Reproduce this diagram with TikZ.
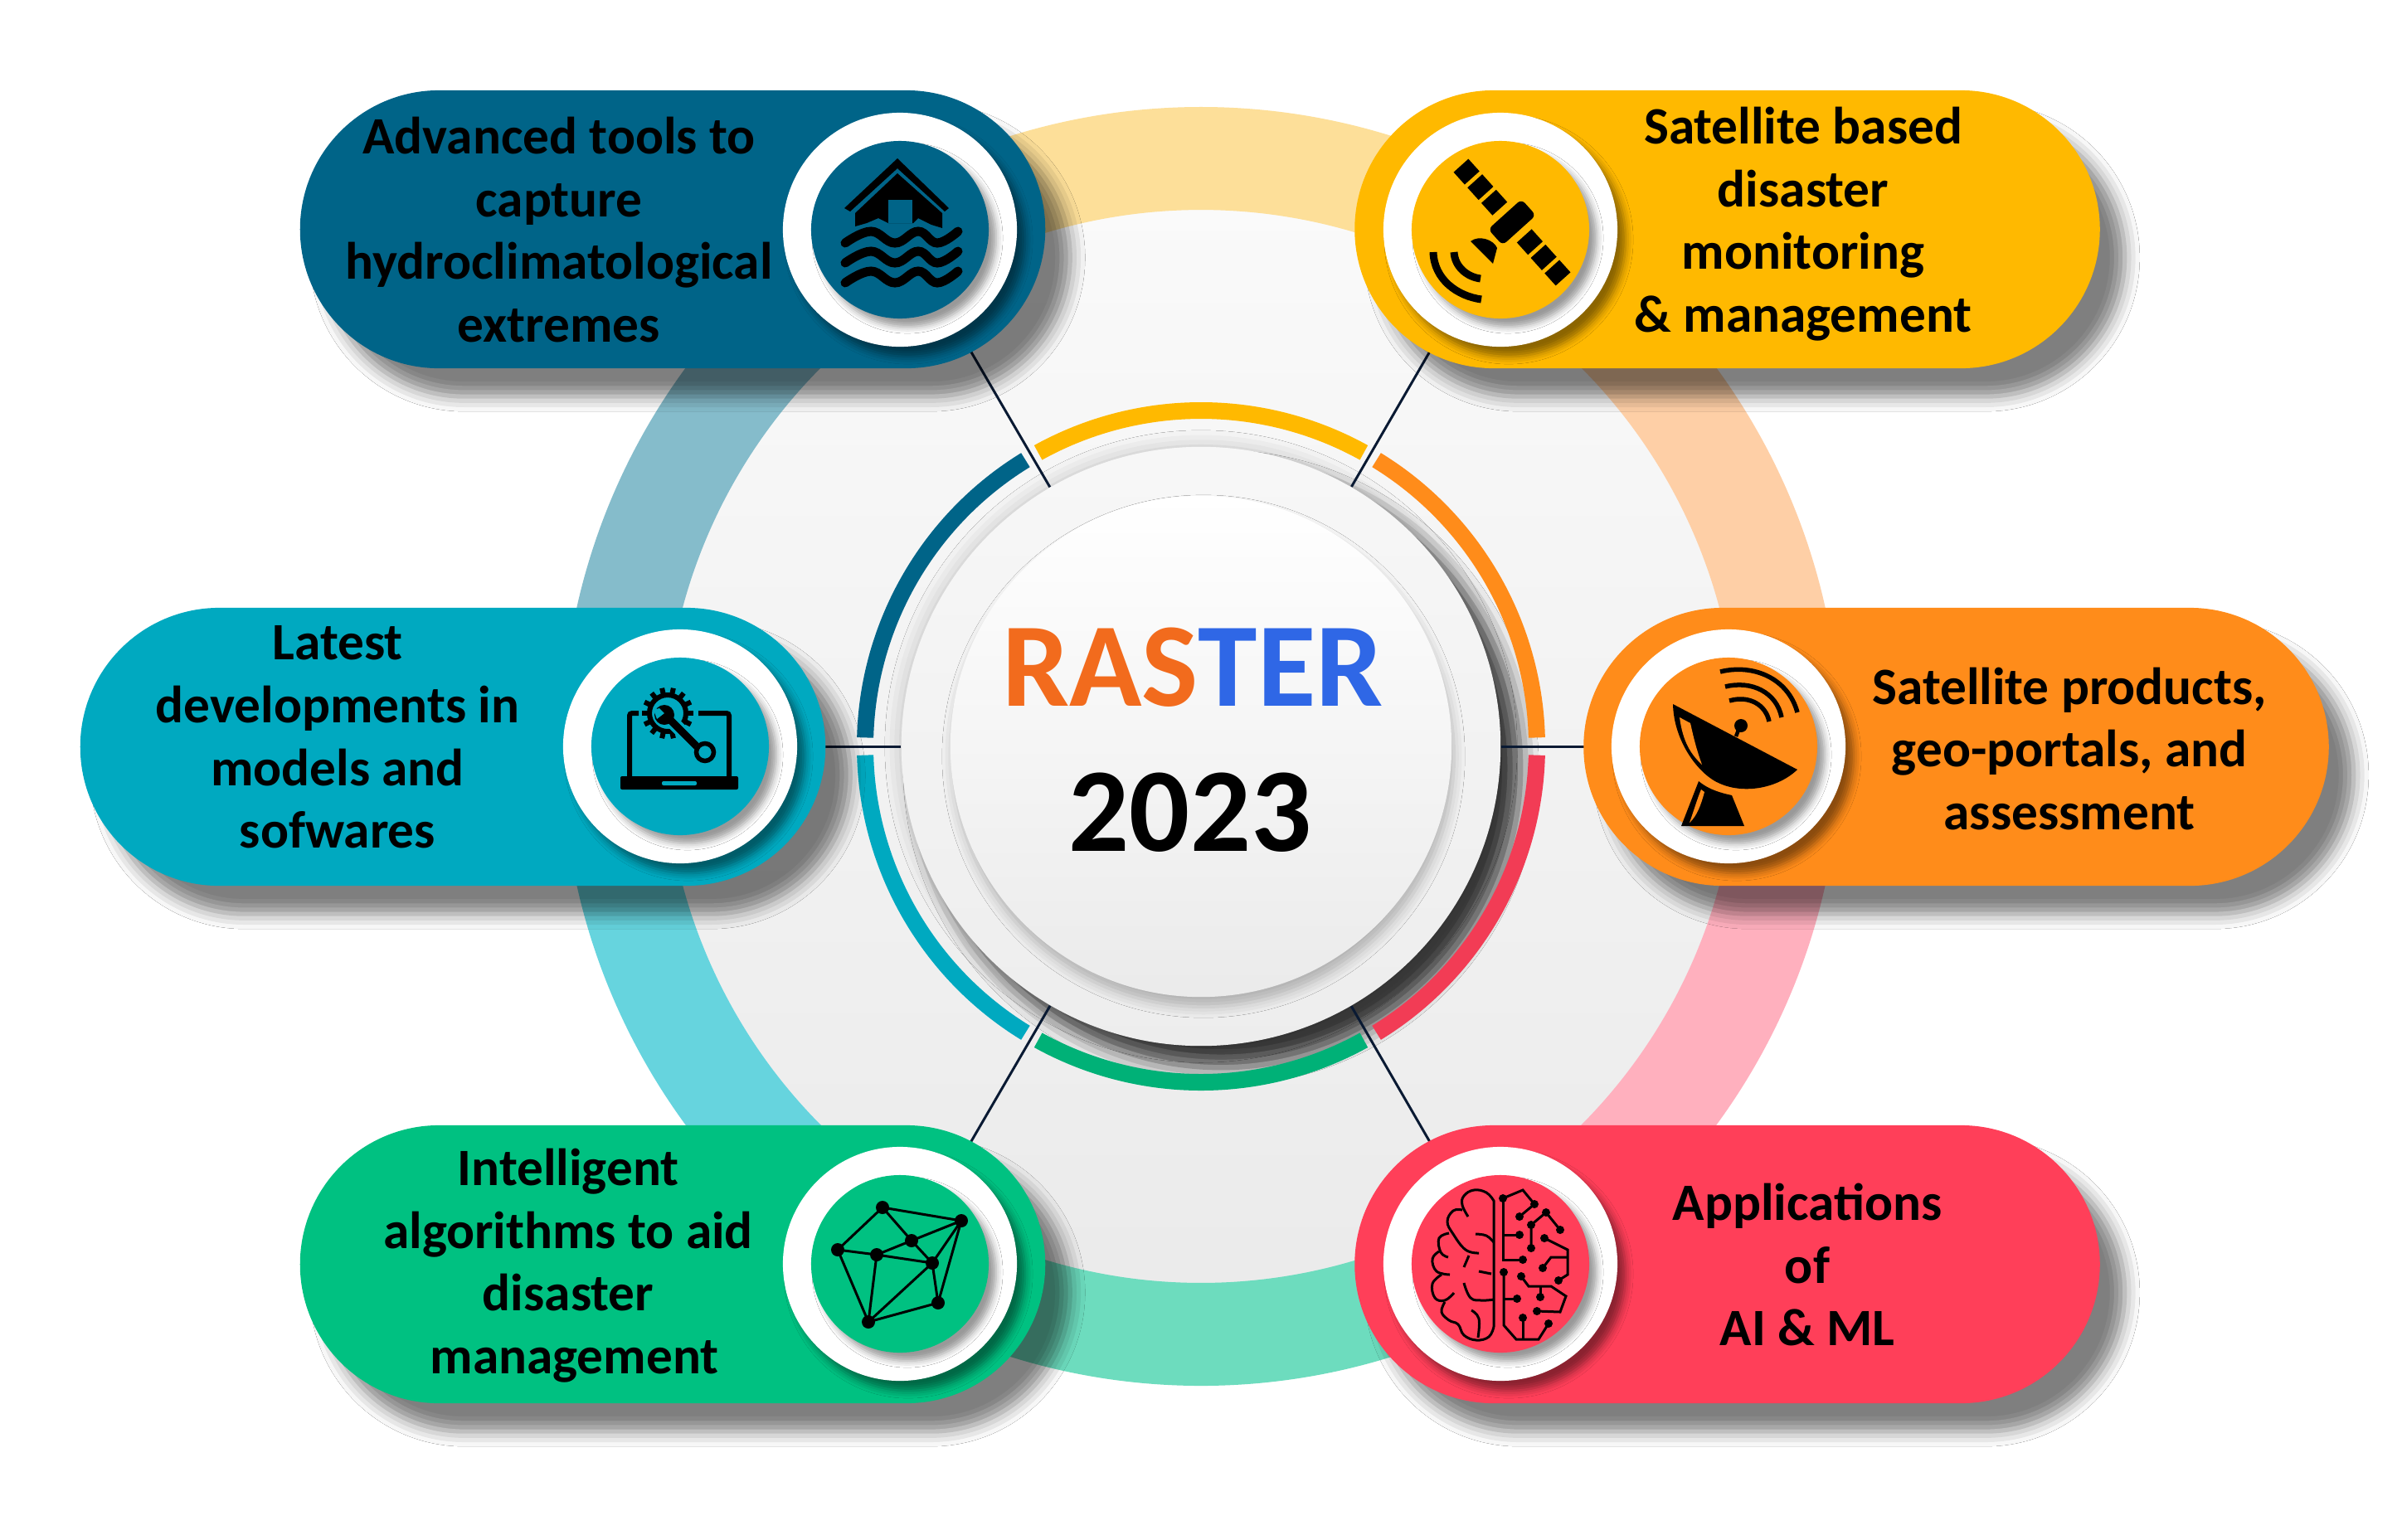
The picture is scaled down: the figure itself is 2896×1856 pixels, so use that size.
\documentclass[tikz,border=0pt]{standalone}
\usepackage{fontspec}
\setmainfont{Carlito}
\usetikzlibrary{shadows.blur}

\definecolor{toolsblue}{HTML}{006488}
\definecolor{satyellow}{HTML}{FFB900}
\definecolor{modelcyan}{HTML}{00A9C0}
\definecolor{prodorange}{HTML}{FF8C1A}
\definecolor{algogreen}{HTML}{00C181}
\definecolor{appred}{HTML}{FF3F59}
\definecolor{linknavy}{HTML}{0A1A33}
\definecolor{rasorange}{HTML}{F26B1D}
\definecolor{terblue}{HTML}{2F67E6}

\begin{document}
\begin{tikzpicture}[
    x=0.01cm,
    y=-0.01cm,
    pill/.style={
        rectangle,
        fill=#1,
        rounded corners=1.675cm,
        minimum width=8.98cm,
        minimum height=3.35cm,
        blur shadow={shadow xshift=0.3cm, shadow yshift=-0.34cm,
            shadow blur radius=0.18cm, shadow opacity=50}
    },
    badge/.style={
        circle,
        fill=white,
        inner sep=0pt,
        minimum size=2.82cm,
        blur shadow={shadow xshift=0.1cm, shadow yshift=-0.12cm,
            shadow blur radius=0.09cm, shadow opacity=45}
    },
    core/.style={
        circle,
        fill=#1,
        inner sep=0pt,
        minimum size=2.14cm,
        blur shadow={shadow xshift=0.09cm, shadow yshift=-0.1cm,
            shadow blur radius=0.08cm, shadow opacity=40}
    },
    label/.style={
        font=\fontsize{18}{21.5}\selectfont\bfseries,
        align=center,
        inner sep=0pt
    },
    link/.style={
        line width=0.03cm,
        linknavy
    },
    stroke/.style={
        line width=#1,
        black
    },
    stroke/.default=0.03cm
]

\useasboundingbox (0,0) rectangle (2896,1856);

\fill[white] (0,0) rectangle (2896,1856);
\node[circle, inner sep=0pt, minimum size=13.1cm, top color=white!98!black, bottom color=white!92!black] (disc) at (1448,900) {};
\foreach \from/\to/\tint in {240/300/FDDF99, 300/360/FECFA6, 0/60/FFB0BE, 60/120/6DDCBE, 120/180/66D4DE, 180/240/85BCCB} {
    \definecolor{ringtint}{HTML}{\tint}
    \draw[ringtint, line width=1.24cm] (disc.center) ++(\from:709) arc[start angle=\from, end angle=\to, radius=709];
}
\node[circle, inner sep=0pt, minimum size=7.22cm, fill=white!90!black,
    blur shadow={shadow xshift=0cm, shadow yshift=0cm, shadow blur radius=0.2cm, shadow opacity=22}] (hubhalo) at (1448,900) {};
\node[circle, inner sep=0pt, minimum size=7.22cm, top color=white!97!black, bottom color=white!93!black,
    blur shadow={shadow xshift=0.24cm, shadow yshift=-0.26cm, shadow blur radius=0.22cm, shadow opacity=75}] (hub) at (1448,900) {};

\foreach \from/\to/\tone in {181.5/238.5/toolsblue, 241/299/satyellow, 301.5/358.5/prodorange, 1.5/58.5/appred!95!black, 61/119/algogreen!92!black, 121.5/178.5/modelcyan} {
    \draw[\tone, line width=0.2cm] (hub.center) ++(\from:405) arc[start angle=\from, end angle=\to, radius=405];
}
\node[circle, inner sep=0pt, minimum size=6.04cm, top color=white, bottom color=white!92!black,
    blur shadow={shadow xshift=0.03cm, shadow yshift=-0.12cm, shadow blur radius=0.13cm, shadow opacity=25}] (hubtop) at (1448,900) {};

\coordinate (toolsspot) at (1085,277);
\coordinate (satspot) at (1809,277);
\coordinate (modelsspot) at (820,900);
\coordinate (prodspot) at (2084,900);
\coordinate (algosspot) at (1085,1524);
\coordinate (appsspot) at (1809,1524);

\draw[link] (hub) -- (toolsspot);
\draw[link] (hub) -- (satspot);
\draw[link] (hub) -- (modelsspot);
\draw[link] (hub) -- (prodspot);
\draw[link] (hub) -- (algosspot);
\draw[link] (hub) -- (appsspot);

\node[pill=toolsblue] (tools) at (811,276.5) {};
\node[pill=satyellow] (satellite) at (2082.5,276.5) {};
\node[pill=modelcyan] (models) at (546,900.5) {};
\node[pill=prodorange] (products) at (2358.5,900.5) {};
\node[pill=algogreen] (algos) at (811,1524.5) {};
\node[pill=appred] (apps) at (2082.5,1524.5) {};

\node[badge] (toolsbadge) at (toolsspot) {};
\node[badge] (satbadge) at (satspot) {};
\node[badge] (modelsbadge) at (modelsspot) {};
\node[badge] (prodbadge) at (prodspot) {};
\node[badge] (algosbadge) at (algosspot) {};
\node[badge] (appsbadge) at (appsspot) {};

\node[core=toolsblue] (toolscore) at (toolsspot) {};
\node[core=satyellow] (satcore) at (satspot) {};
\node[core=modelcyan] (modelscore) at (modelsspot) {};
\node[core=prodorange] (prodcore) at (prodspot) {};
\node[core=algogreen] (algoscore) at (algosspot) {};
\node[core=appred] (appscore) at (appsspot) {};

\node[anchor=base, font=\fontsize{41}{41}\selectfont\bfseries, inner sep=0pt] (raster) at (1438,851)
    {\textcolor{rasorange}{RAS}\textcolor{terblue}{TER}};
\node[anchor=base, font=\fontsize{41}{41}\selectfont\bfseries, inner sep=0pt] (year) at (1435,1026) {2023};

\node[label] (toolstext) at (674,277)
    {Advanced tools to\\capture\\hydroclimatological\\extremes};
\node[label] (sattext) at (2174,270)
    {Satellite based\\disaster\\monitoring\\\& management};
\node[label] (modelstext) at (407,889)
    {Latest\\developments in\\models and\\sofwares};
\node[label] (prodtext) at (2495,903)
    {Satellite products,\\geo-portals, and\\assessment};
\node[label] (algostext) at (685,1526)
    {Intelligent\\algorithms to aid\\disaster\\\hspace*{0.15cm}management};
\node[label] (appstext) at (2179,1525)
    {Applications\\of\\AI \& ML};

\begin{scope}[shift={(toolscore.center)}]
\fill (-3,-86) -- (59,-26) -- (54,-22) -- (-3,-74) -- (-60,-22) -- (-67,-26) -- cycle;
\fill (-3,-68) -- (51,-20) -- (51,-2) -- (38,-6) -- (22,-14) -- (16,-8) -- (-14,-8) -- (-26,-14) -- (-40,-8) -- (-54,-4) -- (-54,-20) -- cycle;
\fill[toolsblue] (-14,-36) rectangle (15,-8);
\foreach \dy in {0,24,48} {
    \draw[stroke=0.11cm, line cap=round, yshift=-\dy*0.01cm] plot[smooth, tension=0.7] coordinates {(-66,16) (-35,2) (-6,16) (22,2) (45,16) (70,2)};
}
\end{scope}

\begin{scope}[shift={(satcore.center)}]
\fill (-36,14) .. controls (-26,6) and (-8,12) .. (-4,22) -- (-9,41) -- cycle;
\draw[stroke=0.09cm] (-81,27) .. controls (-80,60) and (-52,80) .. (-23,84);
\draw[stroke=0.09cm] (-56,27) .. controls (-55,45) and (-40,57) .. (-24,59);
\begin{scope}[shift={(14,-9)}, rotate=-48]
\fill[rounded corners=0.06cm] (-13,-27) rectangle (13,27);
\foreach \u in {-92,-67,-42,22,47,72} {
    \fill (\u,-12) rectangle ++(20,24);
}
\end{scope}
\end{scope}

\begin{scope}[shift={(modelscore.center)}]
\fill[rounded corners=0.02cm] (-72,36) rectangle (70,52);
\fill[modelcyan, rounded corners=0.02cm] (-22,42) rectangle (20,47);
\draw[stroke=0.06cm, rounded corners=0.03cm] (-50,-40) -- (-61,-40) -- (-61,36);
\draw[stroke=0.06cm, rounded corners=0.03cm] (22,-40) -- (59,-40) -- (59,36);
\begin{scope}[shift={(-15,-40)}]
\draw[stroke=0.06cm] (0,0) circle[radius=22];
\foreach \n in {0,...,13} {
    \draw[stroke=0.06cm] (\n*360/14:24) -- (\n*360/14:31);
}
\end{scope}
\draw[modelcyan, line width=0.16cm] (-17,-37) -- (20,0);
\draw[stroke=0.09cm] (-17,-37) -- (22,2);
\fill (-19,-38) circle[radius=12];
\fill[modelcyan] (-25,-46) -- (-19,-40) -- (-28,-33) -- (-32,-44) -- cycle;
\fill[modelcyan] (30,7) circle[radius=13];
\draw[stroke=0.055cm] (30,7) circle[radius=10.5];
\end{scope}

\begin{scope}[shift={(prodcore.center)}]
\fill (-67,-51) .. controls (-66,-5) and (-35,35) .. (-10,45) .. controls (20,58) and (60,50) .. (83,28) -- cycle;
\fill[prodorange] (-59,-35) .. controls (-55,-5) and (-45,10) .. (-32,22) .. controls (-40,0) and (-43,-15) .. (-46,-28) -- cycle;
\draw[stroke=0.045cm] (9,-12) -- (14,-25);
\fill (15,-25) circle[radius=8];
\draw[stroke=0.055cm] (1,-55) .. controls (25,-62) and (45,-50) .. (49,-30);
\draw[stroke=0.055cm] (-4,-72) .. controls (28,-80) and (58,-65) .. (64,-35);
\draw[stroke=0.055cm] (-10,-90) .. controls (30,-100) and (72,-82) .. (83,-41);
\fill (-36,42) .. controls (-24,52) and (-10,56) .. (4,59) -- (19,96) -- (-57,96) -- cycle;
\fill[prodorange] (-33,52) -- (-29,55) .. controls (-33,70) and (-38,84) .. (-47,92) .. controls (-42,78) and (-38,64) .. (-33,52) -- cycle;
\end{scope}

\begin{scope}[shift={(algoscore.center)}]
\coordinate (na) at (-21,-68);
\coordinate (nb) at (74,-52);
\coordinate (nc) at (14,-28);
\coordinate (nd) at (-75,-17);
\coordinate (ne) at (-28,-11);
\coordinate (nf) at (39,-1);
\coordinate (ng) at (46,47);
\coordinate (nh) at (-38,70);
\foreach \p/\q in {na/nb, na/nc, na/nd, nb/nc, nb/nf, nb/ng, nc/ne, nc/nf, nd/ne, ne/nf, nd/nh, ne/nh, nf/nh, nf/ng, ng/nh} {
    \draw[stroke] (\p) -- (\q);
}
\foreach \p in {na,nb,nc,nd,ne,nf,ng,nh} {
    \fill (\p) circle[radius=8];
}
\end{scope}

\begin{scope}[shift={(appscore.center)}, stroke]
\draw[stroke] plot[smooth, tension=0.7] coordinates {(-39,-57) (-46,-71) (-44,-82) (-32,-89) (-17,-86) (-8,-76)} -- (-8,76);
\draw[stroke] plot[smooth, tension=0.7] coordinates {(-46,-65) (-57,-64) (-64,-51) (-57,-36) (-42,-17) (-26,-13)};
\draw[stroke] plot[smooth, tension=0.7] coordinates {(-62,-37) (-74,-31) (-72,-14) (-63,-8)};
\draw[stroke] plot[smooth, tension=0.7] coordinates {(-74,-15) (-82,-6) (-77,9) (-61,13)};
\draw[stroke] plot[smooth, tension=0.7] coordinates {(-71,13) (-82,24) (-79,41) (-67,44) (-56,35)};
\draw[stroke] plot[smooth, tension=0.7] coordinates {(-67,46) (-71,58) (-62,68) (-51,73) (-44,86) (-29,92) (-14,88) (-8,76)};
\draw[stroke] plot[smooth, tension=0.7] coordinates {(-30,-36) (-17,-34) (-8,-26)};
\draw[stroke] (-38,-10) -- (-44,4);
\draw[stroke] plot[smooth, tension=0.7] coordinates {(-26,9) (-11,12)};
\draw[stroke] plot[smooth, tension=0.7] coordinates {(-44,23) (-36,41) (-22,44) (-8,43)};
\draw[stroke] plot[smooth, tension=0.7] coordinates {(-35,56) (-26,66) (-27,89)};
\draw[stroke] (3,-79) -- (3,-5) -- (27,-5);
\draw[stroke] (3,-35) -- (23,-35);
\draw[stroke] (3,-79) -- (27,-89) -- (41,-72) -- (23,-57);
\draw[stroke] (72,-41) -- (55,-62) -- (37,-47) -- (37,-19);
\draw[stroke] (53,-31) -- (81,-17) -- (81,13) -- (70,20);
\draw[stroke] (81,-8) -- (61,-8) -- (51,5);
\draw[stroke] (4,10) -- (4,74) -- (19,91) -- (46,91) -- (58,72);
\draw[stroke] (4,42) -- (20,42);
\draw[stroke] (27,91) -- (27,65);
\draw[stroke] (25,15) -- (34,27) -- (61,27) -- (79,39) -- (72,58) -- (44,57);
\draw[stroke] (48,27) -- (48,40);
\foreach \p in {(3,-79),(27,-5),(23,-35),(41,-72),(23,-57),(55,-62),(72,-41),(37,-47),(37,-19),(53,-31),(70,20),(51,5),(4,10),(58,72),(20,42),(27,65),(25,15),(44,57),(48,40)} {
    \fill \p circle[radius=5];
}
\end{scope}

\end{tikzpicture}
\end{document}
